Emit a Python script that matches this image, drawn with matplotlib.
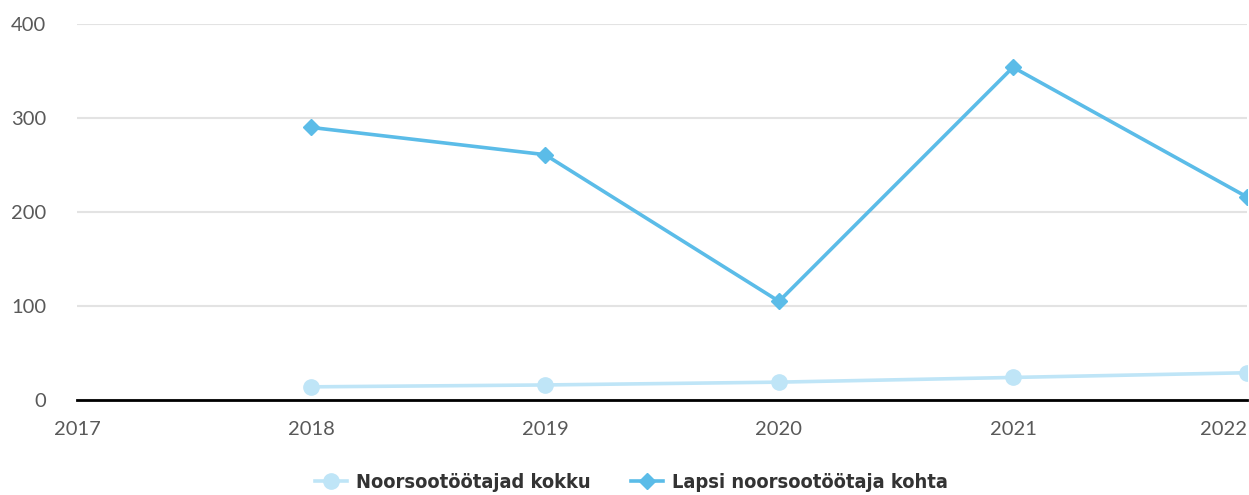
import matplotlib
matplotlib.use("Agg")
import matplotlib.pyplot as plt

# data
years = [2018, 2019, 2020, 2021, 2022]
noorsootootajad = [14, 16, 19, 24, 29]
lapsi_kohta = [290, 261, 105, 354, 216]
yticks = [0, 100, 200, 300, 400]
xticks = [2017, 2018, 2019, 2020, 2021, 2022]

plt.rcParams['font.family'] = ['Lato', 'DejaVu Sans']

fig = plt.figure(figsize=(12.49, 4.95), dpi=100)
ax = fig.add_axes([77/1249, 95/495, 1170/1249, 376/495])

ax.plot(years, noorsootootajad, color='#bfe5f7', lw=2.6, marker='o', ms=11,
        label='Noorsootöötajad kokku', zorder=3)
ax.plot(years, lapsi_kohta, color='#5bbce8', lw=2.6, marker='D', ms=8,
        label='Lapsi noorsootöötaja kohta', zorder=4)

ax.set_xlim(2017, 2022)
ax.set_ylim(0, 400)
ax.set_xticks(xticks)
ax.set_yticks(yticks)
ax.grid(axis='y', color='#e3e3e3', lw=1.5)
ax.set_axisbelow(True)
for s in ['top', 'right', 'left']:
    ax.spines[s].set_visible(False)
ax.spines['bottom'].set_color('black')
ax.spines['bottom'].set_linewidth(2)
ax.tick_params(axis='both', length=0, labelsize=14.5, labelcolor='#595959')
ax.tick_params(axis='y', pad=22)
ax.tick_params(axis='x', pad=15)
for lbl in ax.get_yticklabels():
    lbl.set_horizontalalignment('right')
# keep the last year label inside the figure
ax.xaxis.get_major_ticks()[-1].label1.set_horizontalalignment('right')

leg = fig.legend(loc='center', bbox_to_anchor=(0.5056, 0.026), ncol=2, frameon=False,
                 prop={'family': ['DejaVu Sans'], 'stretch': 'condensed',
                       'weight': 'bold', 'size': 14.4},
                 handlelength=1.6, columnspacing=2.0, handletextpad=0.45)
for t in leg.get_texts():
    t.set_color('#333333')

fig.savefig('out.png', dpi=100)
